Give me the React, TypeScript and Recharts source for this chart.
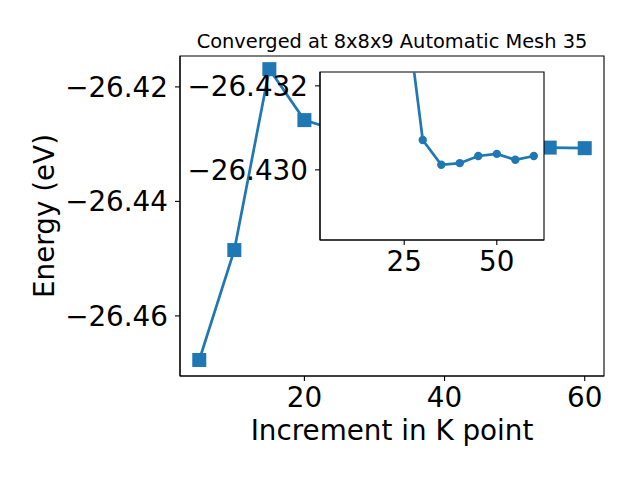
import React from 'react';
import { LineChart, Line, XAxis, YAxis, CartesianGrid, ReferenceArea } from 'recharts';

// Main series: k-point increment vs total energy (eV)
const kPoints = [5, 10, 15, 20, 25, 30, 35, 40, 45, 50, 55, 60];
const energies = [-26.4677, -26.4485, -26.4169, -26.4258, -26.4277, -26.4293, -26.43, -26.4302, -26.4304, -26.4305, -26.4306, -26.4307];
const xTicks = [20, 40, 60];
const yTicks = [-26.46, -26.44, -26.42];
const xDomain = [2.25, 62.75];
const yDomain = [-26.4705, -26.4146];

// Inset series
const insetK = [25, 30, 35, 40, 45, 50, 55, 60];
const insetE = [-26.4342, -26.43071, -26.43012, -26.43016, -26.43033, -26.43038, -26.43024, -26.43033];
const insetXTicks = [25, 50];
const insetYTicks = [-26.432, -26.43];
const insetYDomain = [-26.43233, -26.42833];

const titleText = 'Converged at 8x8x9 Automatic Mesh 35';
const xLabelText = 'Increment in K point';
const yLabelText = 'Energy (eV)';

const mainData = kPoints.map((k, i) => ({ k, e: energies[i] }));
const insetData = insetK.map((k, i) => ({ k, e: insetE[i] }));

const BLUE = '#1f77b4';
const FONT = 'DejaVu Sans';
const TICK_FS = 27.8;

const fmt = (v: number, d: number) => v.toFixed(d).replace('-', '\u2212');

const Square = (props: any) => {
  const { cx, cy, index } = props;
  if (cx == null || cy == null) return <g key={`sq-${index}`} />;
  return <rect key={`sq-${index}`} x={cx - 7} y={cy - 7} width={14} height={14} fill={BLUE} />;
};

const XLabel = (props: any) => {
  const vb = props.viewBox || { x: 180, y: 376, width: 424 };
  return (
    <text x={vb.x + vb.width / 2} y={vb.y + 64} textAnchor="middle" fontSize={TICK_FS} fontFamily={FONT} fill="#000">
      {xLabelText}
    </text>
  );
};

const Title = (props: any) => {
  const vb = props.viewBox || { x: 180, y: 56, width: 424 };
  return (
    <text x={vb.x + vb.width / 2} y={vb.y - 8} textAnchor="middle" fontSize={19.4} fontFamily={FONT} fill="#000">
      {titleText}
    </text>
  );
};

const YLabel = (props: any) => {
  const vb = props.viewBox || { x: 0, y: 56, height: 320 };
  const cx = vb.x + 54;
  const cy = vb.y + vb.height / 2;
  return (
    <text x={0} y={0} transform={`translate(${cx},${cy}) rotate(-90)`} textAnchor="middle" fontSize={TICK_FS} fontFamily={FONT} fill="#000">
      {yLabelText}
    </text>
  );
};

const tickStyle = { fontSize: TICK_FS, fill: '#000', fontFamily: FONT };
const axisLine = { stroke: '#000', strokeWidth: 1.1 };
const tickLine = { stroke: '#000', strokeWidth: 1.1 };

export default function App() {
  return (
    <div style={{ position: 'absolute', left: 0, top: 0, width: 640, height: 480, background: '#fff', fontFamily: FONT }}>
      <LineChart width={640} height={480} data={mainData} margin={{ top: 56, right: 36, bottom: 0, left: 0 }}>
        <XAxis
          dataKey="k"
          type="number"
          domain={xDomain}
          ticks={xTicks}
          interval={0}
          allowDataOverflow
          height={104}
          tickSize={5}
          tickMargin={6}
          tick={tickStyle}
          axisLine={axisLine}
          tickLine={tickLine}
          label={{ content: XLabel }}
        />
        <YAxis
          type="number"
          domain={yDomain}
          ticks={yTicks}
          interval={0}
          allowDataOverflow
          width={180}
          tickSize={5}
          tickMargin={7}
          tick={tickStyle}
          axisLine={axisLine}
          tickLine={tickLine}
          tickFormatter={(v: number) => fmt(v, 2)}
          label={{ content: YLabel }}
        />
        <ReferenceArea
          x1={xDomain[0]}
          x2={xDomain[1]}
          y1={yDomain[0]}
          y2={yDomain[1]}
          fill="none"
          fillOpacity={0}
          stroke="#000"
          strokeWidth={1.1}
          ifOverflow="visible"
          label={{ content: Title }}
        />
        <Line dataKey="e" stroke={BLUE} strokeWidth={2.7} dot={Square} activeDot={false} isAnimationActive={false} />
      </LineChart>
      <div style={{ position: 'absolute', left: 180, top: 56 }}>
        <LineChart width={380} height={240} data={insetData} margin={{ top: 16, right: 16, bottom: 0, left: 0 }}>
          <CartesianGrid fill="#fff" fillOpacity={1} stroke="none" horizontal={false} vertical={false} />
          <XAxis
            dataKey="k"
            type="number"
            domain={xDomain}
            ticks={insetXTicks}
            interval={0}
            allowDataOverflow
            height={56}
            tickSize={5}
            tickMargin={6}
            tick={tickStyle}
            axisLine={axisLine}
            tickLine={tickLine}
          />
          <YAxis
            type="number"
            reversed
            domain={insetYDomain}
            ticks={insetYTicks}
            interval={0}
            allowDataOverflow
            width={140}
            tickSize={5}
            tickMargin={7}
            tick={tickStyle}
            axisLine={axisLine}
            tickLine={tickLine}
            tickFormatter={(v: number) => fmt(v, 3)}
          />
          <ReferenceArea
            x1={xDomain[0]}
            x2={xDomain[1]}
            y1={insetYDomain[0]}
            y2={insetYDomain[1]}
            fill="none"
            fillOpacity={0}
            stroke="#000"
            strokeWidth={1.1}
            ifOverflow="visible"
          />
          <Line
            dataKey="e"
            stroke={BLUE}
            strokeWidth={2.7}
            dot={{ r: 4.2, fill: BLUE, stroke: BLUE, strokeWidth: 0 }}
            activeDot={false}
            isAnimationActive={false}
          />
        </LineChart>
      </div>
    </div>
  );
}
